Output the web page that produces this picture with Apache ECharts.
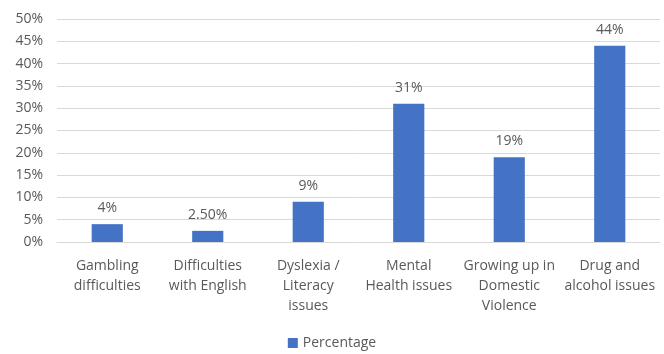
<!DOCTYPE html>
<html>
<head>
<meta charset="utf-8">
<script src="https://cdn.jsdelivr.net/npm/echarts@6/dist/echarts.min.js"></script>
<style>
  html, body { margin: 0; padding: 0; background: #fff; }
  #chart { width: 664px; height: 354px; }
</style>
</head>
<body>
<div id="chart"></div>
<script>
// Share of respondents reporting each issue
const categories = [
  'Gambling\ndifficulties',
  'Difficulties\nwith English',
  'Dyslexia /\nLiteracy\nissues',
  'Mental\nHealth issues',
  'Growing up in\nDomestic\nViolence',
  'Drug and\nalcohol issues'
];
const percentages = [4, 2.5, 9, 31, 19, 44];
const valueLabels = ['4%', '2.50%', '9%', '31%', '19%', '44%'];
const yTicks = [0, 5, 10, 15, 20, 25, 30, 35, 40, 45, 50];

const textColor = '#595959';
const fontFamily = '"Open Sans", "Liberation Sans", sans-serif';

const chart = echarts.init(document.getElementById('chart'), null, { renderer: 'canvas' });
chart.setOption({
  animation: false,
  textStyle: { fontFamily: fontFamily },
  grid: { left: 57, right: 4, top: 19, bottom: 112, containLabel: false },
  xAxis: {
    type: 'category',
    data: categories,
    axisLine: { show: true, lineStyle: { color: '#d9d9d9' } },
    axisTick: { show: false },
    axisLabel: {
      color: textColor,
      fontSize: 14,
      lineHeight: 20,
      margin: 14,
      interval: 0,
      fontFamily: fontFamily
    }
  },
  yAxis: {
    type: 'value',
    min: yTicks[0],
    max: yTicks[yTicks.length - 1],
    interval: 5,
    axisLine: { show: false },
    axisTick: { show: false },
    splitLine: { lineStyle: { color: '#d9d9d9', width: 1 } },
    axisLabel: {
      color: textColor,
      fontSize: 14,
      margin: 14,
      formatter: v => v + '%',
      fontFamily: fontFamily
    }
  },
  legend: {
    top: 331,
    left: 'center',
    itemWidth: 10,
    itemHeight: 10,
    itemGap: 6,
    icon: 'rect',
    textStyle: { color: textColor, fontSize: 14, fontFamily: fontFamily },
    data: ['Percentage']
  },
  series: [{
    name: 'Percentage',
    type: 'bar',
    data: percentages,
    barWidth: '31%',
    itemStyle: { color: '#4472C4' },
    label: {
      show: true,
      position: 'top',
      distance: 9,
      color: textColor,
      fontSize: 14,
      fontFamily: fontFamily,
      formatter: p => valueLabels[p.dataIndex]
    }
  }]
});
</script>
</body>
</html>
